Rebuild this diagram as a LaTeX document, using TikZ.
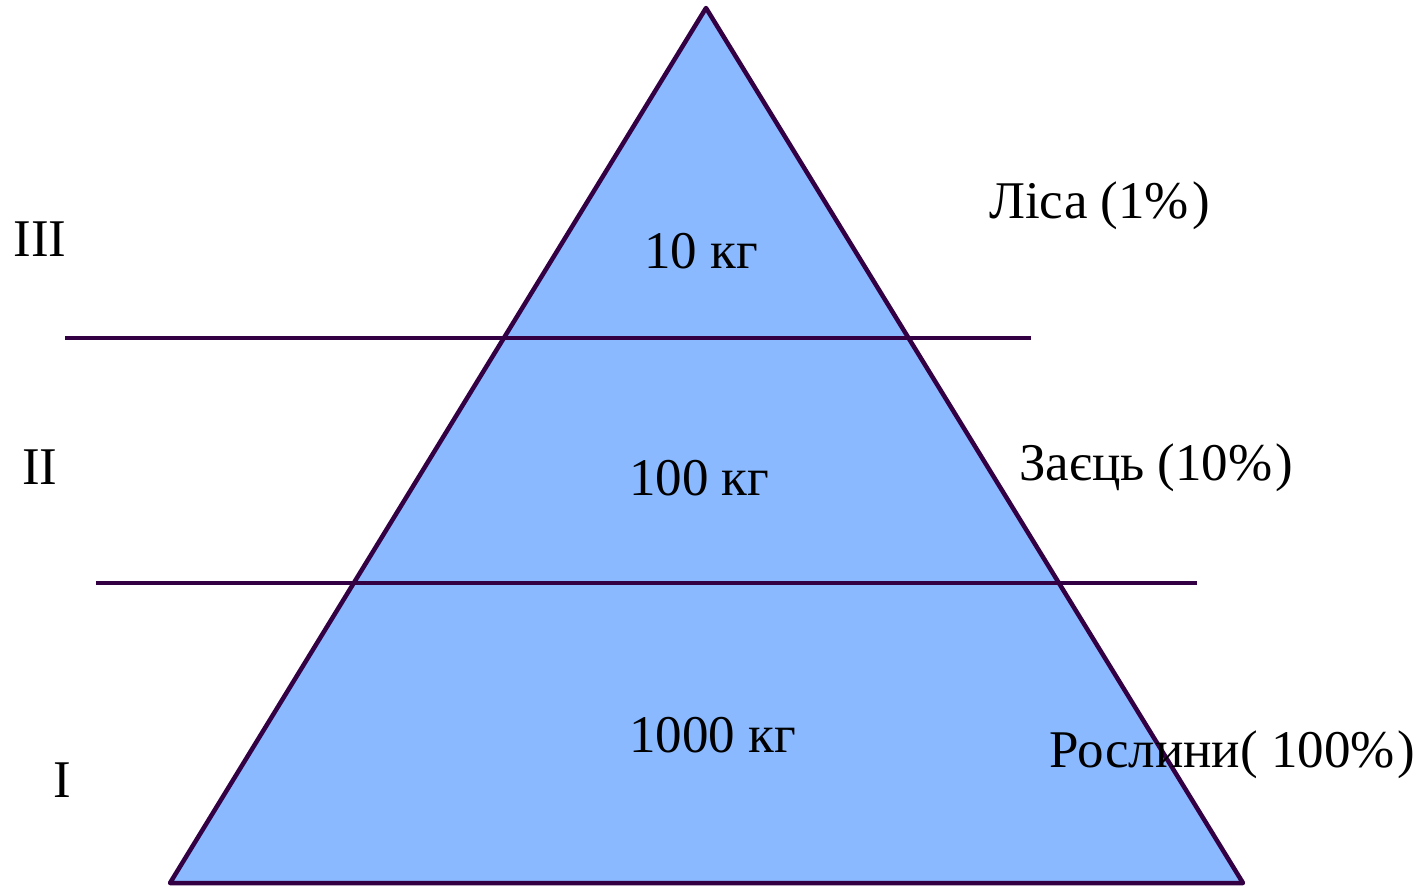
\documentclass[tikz,border=0pt]{standalone}
\usepackage{fontspec}
\setmainfont{Liberation Serif}
\definecolor{pyrfill}{RGB}{138,185,255}
\definecolor{pyrline}{RGB}{51,0,68}
\begin{document}
\begin{tikzpicture}[x=1pt,y=-1pt,
  lbl/.style={inner sep=0pt,font=\fontsize{53}{60}\selectfont,text=black},
  edge/.style={draw=pyrline,line width=4.5pt}]
\useasboundingbox (0,0) rectangle (1423,886);
\coordinate (apex) at (706,8);
\coordinate (bl) at (170,883);
\coordinate (br) at (1243,883);
\filldraw[fill=pyrfill,edge,line join=round] (apex) -- (br) -- (bl) -- cycle;
\coordinate (l1a) at (65,338);
\coordinate (l1b) at (1031,338);
\coordinate (l2a) at (96,583);
\coordinate (l2b) at (1197,583);
\draw[edge] (l1a) -- (l1b);
\draw[edge] (l2a) -- (l2b);
\node[lbl,anchor=base] (r3) at (40,256) {III};
\node[lbl,anchor=base] (r2) at (40,484) {II};
\node[lbl,anchor=base] (r1) at (62,797) {I};
\node[lbl,anchor=base west] (m3) at (644,268) {10 кг};
\node[lbl,anchor=base west] (m2) at (629,495) {100 кг};
\node[lbl,anchor=base west] (m1) at (629,752) {1000 кг};
\node[lbl,anchor=base west] (t3) at (989,218) {Ліса (1\%\kern3pt)};
\node[lbl,anchor=base west] (t2) at (1019,480) {Заєць (10\%\kern3pt)};
\node[lbl,anchor=base west] (t1) at (1049,767) {Рослини( 100\%\kern3pt)};
\end{tikzpicture}
\end{document}
